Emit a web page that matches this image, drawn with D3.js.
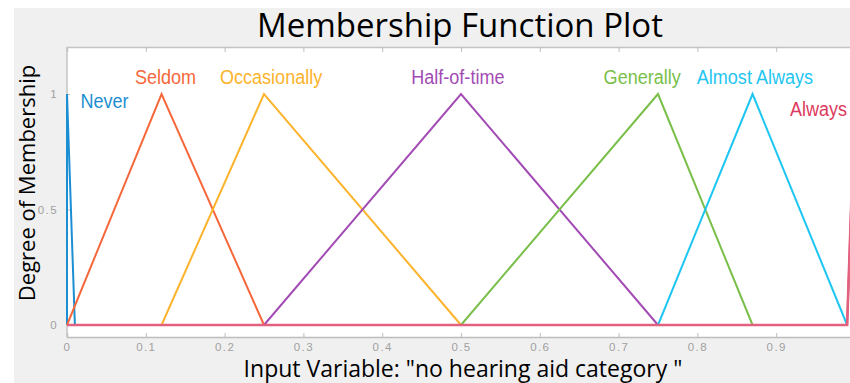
<!DOCTYPE html>
<html>
<head>
<meta charset="utf-8">
<script src="https://cdnjs.cloudflare.com/ajax/libs/d3/7.8.5/d3.min.js"></script>
<style>
  body { margin: 0; background: #fff; }
  svg { display: block; }
  .mf-label { font-family: "Liberation Sans", Arial, sans-serif; }
  .tick text { font-family: "Liberation Sans", Arial, sans-serif; fill: #a0a0a0; letter-spacing: 1.4px; }
</style>
</head>
<body>
<svg id="chart"></svg>
<script>
// membership functions: name + triangle points [a, b, c]
var names = ["Never", "Seldom", "Occasionally", "Half-of-time", "Generally", "Almost Always", "Always"];
var triA = [0,    0,    0.12, 0.25, 0.5,  0.75, 0.99];
var triB = [0,    0.12, 0.25, 0.5,  0.75, 0.87, 1.0];
var triC = [0.01, 0.25, 0.5,  0.75, 0.87, 0.99, 1.0];
var colors = ["#1b8fd2", "#f6683c", "#fdb32c", "#a24bb4", "#79bf4a", "#1ec6f1", "#dd3a5d"];

// where each name is written (x in input units, anchor)
var labelX = [0.017, 0.125, 0.259, 0.496, 0.73, 0.873, 0.99];
var labelAnchor = ["start", "middle", "middle", "middle", "middle", "middle", "end"];

var xTicks = [0, 0.1, 0.2, 0.3, 0.4, 0.5, 0.6, 0.7, 0.8, 0.9];
var yTicks = [0, 0.5, 1];

var width = 850, height = 383;

var svg = d3.select("#chart")
    .attr("width", width)
    .attr("height", height);

// grey figure background
svg.append("rect")
    .attr("x", 14).attr("y", 8)
    .attr("width", width - 14).attr("height", height - 8)
    .attr("fill", "#f0f0f0");

var plotLeft = 67, plotTop = 47, plotBottom = 337;

var x = d3.scaleLinear().domain([0, 1]).range([67, 855]);
var y = d3.scaleLinear().domain([0, 1]).range([325, 94]);

// white axes box
svg.append("rect")
    .attr("x", plotLeft).attr("y", plotTop)
    .attr("width", width - plotLeft).attr("height", plotBottom - plotTop)
    .attr("fill", "#fff");

svg.append("defs").append("clipPath").attr("id", "clip")
  .append("rect")
    .attr("x", plotLeft - 2).attr("y", plotTop)
    .attr("width", width - plotLeft + 2).attr("height", plotBottom - plotTop);

// bottom axis, ticks pointing inward
var xAxis = svg.append("g")
    .attr("transform", "translate(0," + plotBottom + ")")
    .call(d3.axisBottom(x).tickValues(xTicks).tickSize(-4).tickPadding(6)
        .tickFormat(function(d) { return d === 0 ? "0" : d3.format(".1f")(d); }));
xAxis.select(".domain").attr("stroke", "#bdbdbd").attr("stroke-width", 1.5);
xAxis.selectAll(".tick line").attr("stroke", "#bdbdbd");
xAxis.selectAll(".tick text").attr("font-size", 11.5);

// top border with the same ticks
var xTop = svg.append("g")
    .attr("transform", "translate(0," + plotTop + ")")
    .call(d3.axisTop(x).tickValues(xTicks).tickSize(-5).tickFormat(""));
xTop.select(".domain").attr("stroke", "#c4c4c4").attr("stroke-width", 1.5);
xTop.selectAll(".tick line").attr("stroke", "#bdbdbd");

// left axis
var yAxis = svg.append("g")
    .attr("transform", "translate(" + plotLeft + ",0)")
    .call(d3.axisLeft(y).tickValues(yTicks).tickSize(4).tickPadding(5)
        .tickFormat(function(d) { return d === 0.5 ? "0.5" : d; }));
yAxis.select(".domain").remove();
yAxis.selectAll(".tick line").attr("stroke", "#bdbdbd").attr("x2", 3);
yAxis.selectAll(".tick text").attr("font-size", 11.5);
svg.append("line")
    .attr("x1", plotLeft).attr("x2", plotLeft)
    .attr("y1", plotTop).attr("y2", plotBottom)
    .attr("stroke", "#c4c4c4").attr("stroke-width", 1.5);

// triangles
var mfs = names.map(function(n, i) {
  return {name: n, color: colors[i], pts: [[triA[i], 0], [triB[i], 1], [triC[i], 0]]};
});

var line = d3.line()
    .x(function(p) { return x(p[0]); })
    .y(function(p) { return y(p[1]); });

var lines = svg.append("g").attr("clip-path", "url(#clip)");

lines.selectAll("path.mf")
    .data(mfs)
  .enter().append("path")
    .attr("class", "mf")
    .attr("d", function(d) { return line(d.pts); })
    .attr("fill", "none")
    .attr("stroke", function(d) { return d.color; })
    .attr("stroke-width", 2);

// the last function is zero over the rest of the range, drawn on top
lines.append("path")
    .attr("d", line([[0, 0], [triA[6], 0], [triB[6], 1]]))
    .attr("fill", "none")
    .attr("stroke", "#e2617f")
    .attr("stroke-width", 2.6);

// names above the peaks
svg.selectAll("text.mf-label")
    .data(mfs)
  .enter().append("text")
    .attr("class", "mf-label")
    .attr("x", function(d, i) { return x(labelX[i]); })
    .attr("y", function(d, i) { return i === 0 ? 108 : (i === 6 ? 116 : 84); })
    .attr("text-anchor", function(d, i) { return labelAnchor[i]; })
    .attr("font-size", 21)
    .attr("fill", function(d) { return d.color; })
    .attr("transform", function(d, i) {
      var tx = x(labelX[i]);
      return "translate(" + tx + ",0) scale(0.86,1) translate(" + (-tx) + ",0)";
    })
    .text(function(d) { return d.name; });

// title and axis titles
svg.append("text")
    .attr("x", 460).attr("y", 37)
    .attr("text-anchor", "middle")
    .attr("font-family", "'Open Sans', sans-serif")
    .attr("font-size", 33)
    .attr("fill", "#000")
    .text("Membership Function Plot");

svg.append("text")
    .attr("x", 463).attr("y", 377)
    .attr("text-anchor", "middle")
    .attr("font-family", "'Open Sans', sans-serif")
    .attr("font-size", 23)
    .attr("fill", "#000")
    .text("Input Variable: \"no hearing aid category \"");

svg.append("text")
    .attr("transform", "translate(35,183) rotate(-90)")
    .attr("text-anchor", "middle")
    .attr("font-family", "'Open Sans', sans-serif")
    .attr("font-size", 22)
    .attr("fill", "#000")
    .text("Degree of Membership");
</script>
</body>
</html>
